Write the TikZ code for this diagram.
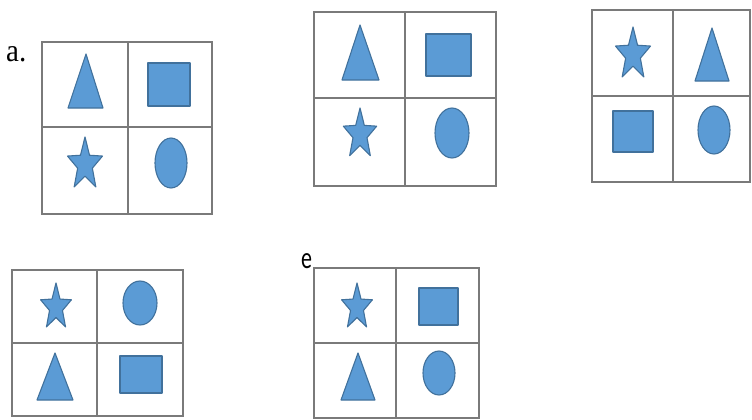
\documentclass[tikz,border=0pt]{standalone}
\usepackage{fontspec}
\setmainfont{Liberation Serif}
\newfontfamily\labsans{Carlito}
\definecolor{shapefill}{HTML}{5B9BD5}
\definecolor{shapeline}{HTML}{41719C}
\definecolor{gridline}{HTML}{7A7A7A}
\tikzset{
  shp/.style={fill=shapefill, draw=shapeline, line width=1.1pt, line join=round},
  gridbox/.style={draw=gridline, line width=1.8pt},
}
% grid: left, top, midx, midy, right, bottom
\newcommand\quadgrid[6]{%
  \draw[gridbox] (#1,#2) rectangle (#5,#6);
  \draw[gridbox] (#3,#2) -- (#3,#6);
  \draw[gridbox] (#1,#4) -- (#5,#4);
}
% star: cx, cy (circumcentre), R
\newcommand\mystar[3]{%
  \begin{scope}[shift={(#1,#2)}, xscale={0.667*#3/10}, yscale={#3/10}]
    \draw[shp] (-90:10) -- (-54:4.2) -- (-18:10) -- (18:4.2) -- (54:10) -- (90:4.2)
      -- (126:10) -- (162:4.2) -- (198:10) -- (234:4.2) -- cycle;
  \end{scope}}
% triangle: apex x, apex y, base y, base left, base right
\newcommand\mytri[5]{\draw[shp] (#1,#2) -- (#5,#3) -- (#4,#3) -- cycle;}
\newcommand\mysq[4]{\draw[shp] (#1,#2) rectangle (#3,#4);}
\newcommand\myell[4]{\draw[shp] (#1,#2) ellipse [x radius=#3, y radius=#4];}
\begin{document}
\begin{tikzpicture}[x=1pt, y=-1pt]
\useasboundingbox (0,0) rectangle (752,420);
% labels
\node[anchor=base west, inner sep=0pt, font=\fontsize{29}{30}\selectfont] (la) at (6,62) {\scalebox{1}[1.1]{a.}};
\node[anchor=base west, inner sep=0pt, font=\labsans\fontsize{22}{24}\selectfont] (le) at (301,268) {\scalebox{1}[1.4]{e}};

% grid 1 (a)
\quadgrid{42}{42}{128}{127}{212}{214}
\mytri{86}{54}{108}{68}{103}
\mysq{148}{63}{190}{106}
\mystar{85}{164.6}{27.6}
\myell{171}{163}{16}{25}

% grid 2
\quadgrid{314}{12}{405}{98}{496}{186}
\mytri{360}{25}{80}{342}{379}
\mysq{426}{34}{471}{76}
\mystar{360}{134.3}{26.3}
\myell{452}{133}{17}{25}

% grid 3
\quadgrid{592}{10}{673}{96}{750}{182}
\mystar{633}{54.6}{27.6}
\mytri{712}{28}{81}{695}{729}
\mysq{613}{111}{653}{152}
\myell{714}{130}{16}{24}

% grid 4
\quadgrid{12}{270}{97}{343}{183}{416}
\mystar{56}{307.3}{24.3}
\myell{140}{303}{17}{22}
\mytri{55}{353}{400}{37}{73}
\mysq{120}{356}{162}{393}

% grid 5
\quadgrid{314}{268}{396}{343}{479}{418}
\mystar{357}{307.3}{24.3}
\mysq{419}{288}{458}{325}
\mytri{358}{353}{400}{341}{375}
\myell{439}{373}{16}{22}
\end{tikzpicture}
\end{document}
